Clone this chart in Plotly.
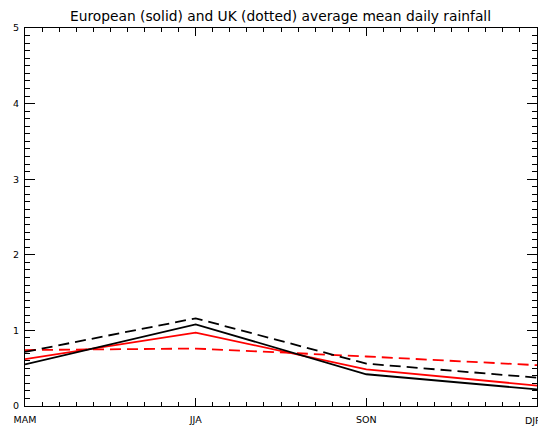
import plotly.graph_objects as go

seasons = ["MAM", "JJA", "SON", "DJF"]
eu_black = [0.55, 1.08, 0.42, 0.22]
uk_black = [0.715, 1.16, 0.56, 0.375]
eu_red = [0.62, 0.97, 0.485, 0.27]
uk_red = [0.74, 0.76, 0.655, 0.54]
y_ticks = [0, 1, 2, 3, 4, 5]

xpos = list(range(len(seasons)))
tick_font = dict(family="DejaVu Sans", size=9.5, color="black")

fig = go.Figure()
series = [
    (uk_red, "red", "11px,6px"),
    (uk_black, "black", "11px,6px"),
    (eu_red, "red", "solid"),
    (eu_black, "black", "solid"),
]
for vals, col, dash in series:
    fig.add_trace(go.Scatter(x=xpos, y=vals, mode="lines",
                             line=dict(color=col, width=1.8, dash=dash),
                             showlegend=False, hoverinfo="skip"))

# the last season label sits on the right frame edge; draw it as an
# annotation nudged slightly left so it is not clipped by the page edge
fig.add_annotation(x=xpos[-1], y=0, xref="x", yref="y", text=seasons[-1],
                   showarrow=False, xanchor="center", yanchor="top",
                   xshift=-4, yshift=-7, font=tick_font)

# the page body has an 8px margin, so the figure is sized to fit the window
fig.update_layout(
    width=538, height=420,
    margin=dict(l=17, r=9, t=20, b=22, autoexpand=False),
    paper_bgcolor="white", plot_bgcolor="white",
    title=dict(text="European (solid) and UK (dotted) average mean daily rainfall",
               x=0.5065, xanchor="center", y=0.98, yanchor="middle",
               font=dict(family="DejaVu Sans", size=13.8, color="black")),
    xaxis=dict(range=[0, 3], tickvals=xpos[:-1], ticktext=seasons[:-1],
               automargin=False,
               showgrid=False, zeroline=False, showline=True, linecolor="black",
               linewidth=1, mirror="ticks", ticks="inside", ticklen=8,
               tickcolor="black", ticklabelstandoff=5,
               tickfont=tick_font,
               minor=dict(ticks="inside", ticklen=4, dtick=0.1, tick0=0,
                          tickcolor="black", showgrid=False)),
    yaxis=dict(range=[0, 5], tickvals=y_ticks, ticktext=[str(v) for v in y_ticks],
               automargin=False,
               showgrid=False, zeroline=False, showline=True, linecolor="black",
               linewidth=1, mirror="ticks", ticks="inside", ticklen=10,
               tickcolor="black", ticklabelstandoff=3,
               tickfont=tick_font,
               minor=dict(ticks="inside", ticklen=5, dtick=0.1, tick0=0,
                          tickcolor="black", showgrid=False)),
)
fig.write_html("out.html")
